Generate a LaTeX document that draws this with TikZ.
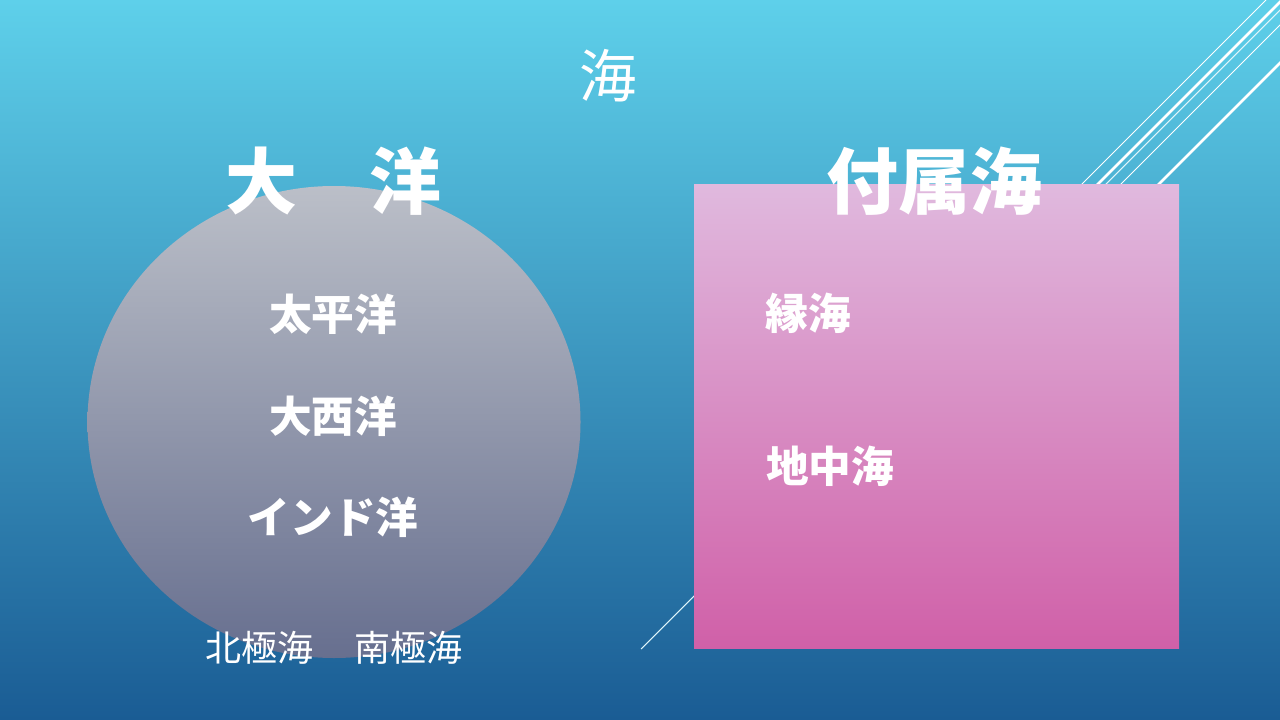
\documentclass[tikz,border=0pt]{standalone}
\usepackage{fontspec}
\setmainfont{Noto Sans CJK JP}
\usepackage{tikz}
\usetikzlibrary{shapes,positioning,backgrounds,calc}

\definecolor{seatop}{HTML}{5ED0EA}
\definecolor{seamid}{HTML}{2E95C3}
\definecolor{seabot}{HTML}{1A5C94}
\definecolor{balltop}{HTML}{BBBFC8}
\definecolor{ballbot}{HTML}{676F8F}
\definecolor{boxtop}{HTML}{E0B9DE}
\definecolor{boxbot}{HTML}{D060A8}

\tikzset{
    heading/.style={text=white, font=\bfseries\fontsize{54}{54}\selectfont, inner sep=0pt},
    item/.style={text=white, font=\bfseries\fontsize{32}{32}\selectfont, inner sep=0pt},
    polar/.style={text=white, font=\fontsize{27}{27}\selectfont, inner sep=0pt},
    deco/.style={white, line width=#1}
}

\begin{document}
\begin{tikzpicture}[x=0.75pt, y=-0.75pt]
    \useasboundingbox (0,0) rectangle (1280,720);
    \shade [top color=seatop, middle color=seamid, bottom color=seabot] (0,0) rectangle (1280,720);

    \begin{scope}
        \clip (0,0) rectangle (1280,720);
        \coordinate (a1) at (1266,0);   \coordinate (a2) at (1000,266);
        \coordinate (b1) at (1282,0);   \coordinate (b2) at (1000,282);
        \coordinate (c1) at (1290,0);   \coordinate (c2) at (641,649);
        \coordinate (d1) at (1305,0);   \coordinate (d2) at (1000,305);
        \coordinate (e1) at (1343,0);   \coordinate (e2) at (1100,243);
        \draw [deco=0.6pt] (a1) -- (a2);
        \draw [deco=2pt] (b1) -- (b2);
        \draw [deco=0.8pt, white!80!seatop] (c1) -- (c2);
        \draw [deco=0.6pt] (d1) -- (d2);
        \draw [deco=2pt] (e1) -- (e2);
    \end{scope}

    \node [ellipse, top color=balltop, bottom color=ballbot, minimum width=369.75pt, minimum height=354pt, inner sep=0pt] (oceans) at (334,422) {};
    \node [rectangle, top color=boxtop, bottom color=boxbot, minimum width=363.75pt, minimum height=347.25pt, inner sep=0pt] (seas) at (936.5,416.5) {};

    \node [text=white, font=\fontsize{43}{43}\selectfont, inner sep=0pt] (title) at (608,76) {海};
    \node [heading] (oceanhead) at (333,181) {大　洋};
    \node [heading] (seahead) at (934,181) {付属海};

    \node [item] (pacific) at (333,314) {太平洋};
    \node [item] (atlantic) at (333,416) {大西洋};
    \node [item] (indian) at (333,517) {インド洋};

    \node [item] (marginal) at (808,313) {縁海};
    \node [item] (mediterranean) at (830,466) {地中海};

    \node [polar] (arctic) at (259,648) {北極海};
    \node [polar] (antarctic) at (408,648) {南極海};
\end{tikzpicture}
\end{document}
